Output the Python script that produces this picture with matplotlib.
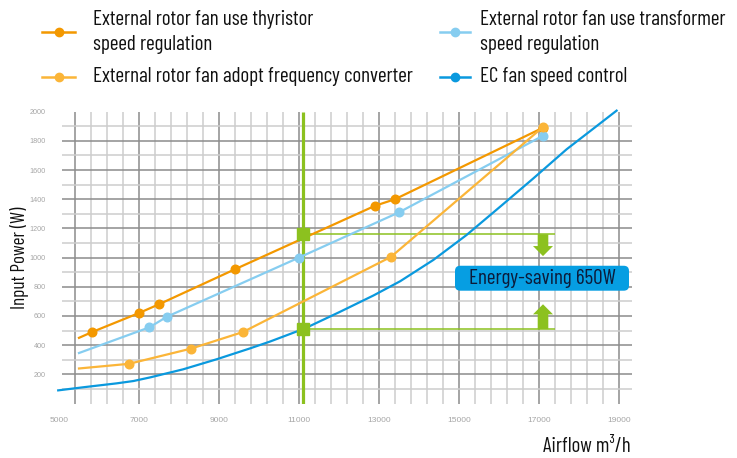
import matplotlib
matplotlib.use("Agg")
import matplotlib.pyplot as plt
from matplotlib.lines import Line2D
from matplotlib.patches import FancyBboxPatch

# ---- data -------------------------------------------------------------
thyristor_x = [5500, 5830, 7000, 7500, 9400, 12900, 13400, 17100]
thyristor_y = [450, 490, 620, 680, 920, 1355, 1400, 1890]

transformer_x = [5500, 7260, 7700, 11000, 13500, 17100]
transformer_y = [346, 522, 595, 1000, 1310, 1835]

converter_x = [5500, 6750, 8300, 9600, 13300, 17100]
converter_y = [240, 272, 376, 490, 1005, 1895]

ec_x = [4980, 5600, 6440, 6860, 7280, 8100, 8940, 9780, 10280, 11150,
        12030, 12860, 13530, 14360, 15190, 16030, 16860, 17690, 18530, 18940]
ec_y = [90, 111, 138, 154, 179, 234, 303, 378, 425, 515,
        629, 740, 838, 984, 1155, 1349, 1543, 1742, 1920, 2007]

series_labels = [
    "External rotor fan use thyristor\nspeed regulation",
    "External rotor fan use transformer\nspeed regulation",
    "External rotor fan adopt frequency converter",
    "EC fan speed control",
]

x_ticks = [5000, 7000, 9000, 11000, 13000, 15000, 17000, 19000]
y_ticks = [200, 400, 600, 800, 1000, 1200, 1400, 1600, 1800, 2000]

compare_airflow = 11100
compare_power = [1160, 510]          # thyristor vs EC at the same airflow
saving = compare_power[0] - compare_power[1]

# ---- style ------------------------------------------------------------
C_THY = "#f39800"
C_TRF = "#86cdf0"
C_CNV = "#fbb538"
C_EC = "#0a99de"
C_GREEN = "#8cc11f"
C_GRID_D = "#8c8c8c"
C_GRID_L = "#cdcdcd"
C_TICK = "#a6a6a6"
C_BOX = "#069ee2"
C_BOXTXT = "#0c1b3a"

COND = ["Barlow Condensed", "Roboto Condensed", "Liberation Sans Narrow", "DejaVu Sans"]
TICKF = ["Liberation Sans", "DejaVu Sans"]

W, H = 737, 458
fig = plt.figure(figsize=(W / 100, H / 100), dpi=100)

def fx(px):
    return px / W

def fy(py):
    return 1 - py / H

# axes placed so that 4900..19400 / 0..2010 fill the grid area
ax = fig.add_axes([fx(55), fy(403.5), fx(635) - fx(55), fy(110.2) - fy(403.5)])
ax.set_xlim(4900, 19400)
ax.set_ylim(0, 2010)
for s in ax.spines.values():
    s.set_visible(False)

# grid
for gx in range(5400, 19001, 400):
    dark = gx == 5400 or (gx - 7000) % 2000 == 0
    ax.vlines(gx, 0, 2000, color=C_GRID_D if dark else C_GRID_L, lw=1.1, zorder=1)
for gy in range(100, 2000, 100):
    dark = gy % 200 == 0
    ax.hlines(gy, 5075, 19330, color=C_GRID_D if dark else C_GRID_L, lw=1.1, zorder=1)

ax.set_xticks(x_ticks)
ax.set_xticklabels([str(t) for t in x_ticks])
ax.set_yticks(y_ticks)
ax.set_yticklabels([str(t) for t in y_ticks])
ax.tick_params(length=0, colors=C_TICK)
ax.tick_params(axis="x", pad=9.5, labelsize=6)
ax.tick_params(axis="y", pad=6.5, labelsize=5.2)
for lab in ax.get_xticklabels() + ax.get_yticklabels():
    lab.set_family(TICKF)

# comparison guides
ax.vlines(compare_airflow, 0, 2000, color=C_GREEN, lw=2.3, zorder=4)
for p in compare_power:
    ax.hlines(p, compare_airflow, 17400, color=C_GREEN, lw=1.1, zorder=4)

# series
mk = dict(marker="o", markersize=6.2, lw=1.6, zorder=5)
ax.plot(thyristor_x, thyristor_y, color=C_THY, markevery=list(range(1, len(thyristor_x))), **mk)
ax.plot(transformer_x, transformer_y, color=C_TRF, markevery=list(range(1, len(transformer_x))), **mk)
ax.plot(converter_x, converter_y, color=C_CNV, markevery=list(range(1, len(converter_x))), **mk)
ax.plot(ec_x, ec_y, color=C_EC, lw=1.6, zorder=5, clip_on=False)

ax.plot([compare_airflow] * 2, compare_power, ls="none", marker="s",
        markersize=8.2, color=C_GREEN, zorder=6)

# arrows pointing at the saving label
arrow_kw = dict(width=265, head_width=500, head_length=69, length_includes_head=True,
                color=C_GREEN, ec="none", zorder=6)
ax.arrow(17100, compare_power[0], 0, -150, **arrow_kw)
ax.arrow(17100, compare_power[1], 0, 170, **arrow_kw)

# saving label
box = FancyBboxPatch((14900, 773), 4350, 171,
                     boxstyle="round,pad=0,rounding_size=130",
                     mutation_aspect=0.274, fc=C_BOX, ec="none", zorder=7)
ax.add_patch(box)
ax.text(17075, 858, f"Energy-saving {saving}W", ha="center", va="center",
        fontsize=15.3, color=C_BOXTXT, family=COND, zorder=8)

# axis titles
fig.text(fx(20), fy(258), "Input Power (W)", rotation=90, ha="center", va="center",
         fontsize=13.8, color="#111111", family=COND)
fig.text(fx(631), fy(447), "Airflow m³/h", ha="right", va="center",
         fontsize=15, color="#111111", family=COND)

# legend
legend_rows = [
    (42, 75, 93, 32, C_THY, series_labels[0]),
    (440, 470, 480, 32, C_TRF, series_labels[1]),
    (42, 75, 93, 77, C_CNV, series_labels[2]),
    (440, 470, 480, 77, C_EC, series_labels[3]),
]
for x0, x1, tx, ry, col, lab in legend_rows:
    fig.add_artist(Line2D([fx(x0), fx(x1)], [fy(ry), fy(ry)], color=col, lw=1.8,
                          transform=fig.transFigure))
    fig.add_artist(Line2D([fx((x0 + x1) / 2)], [fy(ry)], color=col, marker="o",
                          markersize=6, transform=fig.transFigure))
    fig.text(fx(tx), fy(ry), lab, ha="left", va="center", fontsize=15.2,
             color="#111111", family=COND, linespacing=1.38)

fig.savefig("out.png", dpi=100)
